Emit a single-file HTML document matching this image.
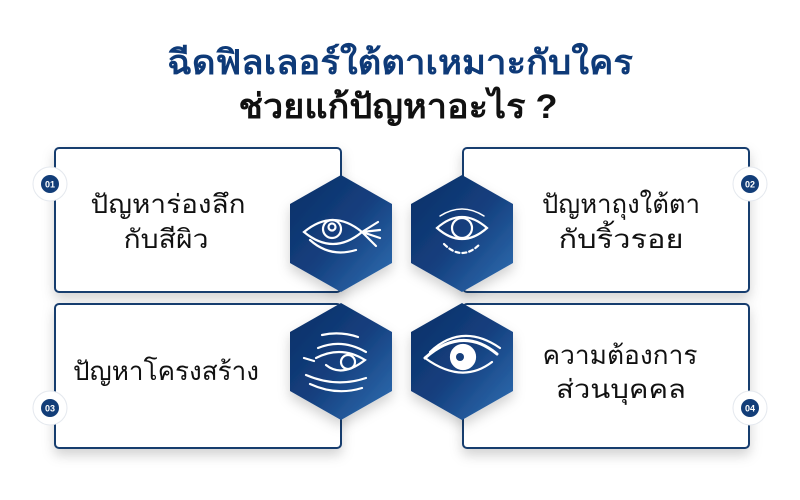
<!DOCTYPE html>
<html><head><meta charset="utf-8"><style>
html,body{margin:0;padding:0;background:#fff;}
svg{display:block}
text{font-family:"Liberation Sans","DejaVu Sans",sans-serif;}
</style></head><body>
<svg width="800" height="500" viewBox="0 0 800 500" xmlns="http://www.w3.org/2000/svg">
<defs>
<linearGradient id="g" x1="0" y1="0" x2="1" y2="1">
<stop offset="0" stop-color="#0b2f66"/><stop offset="0.5" stop-color="#143f7e"/><stop offset="1" stop-color="#3170b4"/>
</linearGradient>
<filter id="sh" x="-20%" y="-20%" width="140%" height="150%"><feDropShadow dx="0" dy="6" stdDeviation="6" flood-color="#000" flood-opacity="0.18"/></filter>
</defs>
<rect width="800" height="500" fill="#fff"/>
<text x="400" y="74" text-anchor="middle" font-size="34" font-weight="bold" fill="#0e3a78" textLength="466" lengthAdjust="spacingAndGlyphs">ฉีดฟิลเลอร์ใต้ตาเหมาะกับใคร</text>
<text x="398" y="118" text-anchor="middle" font-size="34" font-weight="bold" fill="#111" textLength="319" lengthAdjust="spacingAndGlyphs">ช่วยแก้ปัญหาอะไร ?</text>

<g fill="#fff" stroke="#173c6e" stroke-width="2" filter="url(#sh)">
<rect x="55" y="148" width="286" height="144" rx="4"/>
<rect x="463" y="148" width="286" height="144" rx="4"/>
<rect x="55" y="304" width="286" height="144" rx="4"/>
<rect x="463" y="304" width="286" height="144" rx="4"/>
</g>

<g fill="url(#g)" filter="url(#sh)">
<polygon points="341,175 392,204 392,263 341,292 290,263 290,204"/>
<polygon points="462,175 513,204 513,263 462,292 411,263 411,204"/>
<polygon points="341,303 392,332 392,391 341,420 290,391 290,332"/>
<polygon points="462,303 513,332 513,391 462,420 411,391 411,332"/>
</g>

<!-- badges -->
<g>
<circle cx="50" cy="184" r="17" fill="#fff" stroke="#e4e8ee"/><circle cx="50" cy="184" r="9" fill="#123d78"/>
<text x="50" y="187.5" text-anchor="middle" font-size="9" font-weight="bold" fill="#fff">01</text>
<circle cx="750" cy="184" r="17" fill="#fff" stroke="#e4e8ee"/><circle cx="750" cy="184" r="9" fill="#123d78"/>
<text x="750" y="187.5" text-anchor="middle" font-size="9" font-weight="bold" fill="#fff">02</text>
<circle cx="50" cy="408" r="17" fill="#fff" stroke="#e4e8ee"/><circle cx="50" cy="408" r="9" fill="#123d78"/>
<text x="50" y="411.5" text-anchor="middle" font-size="9" font-weight="bold" fill="#fff">03</text>
<circle cx="750" cy="408" r="17" fill="#fff" stroke="#e4e8ee"/><circle cx="750" cy="408" r="9" fill="#123d78"/>
<text x="750" y="411.5" text-anchor="middle" font-size="9" font-weight="bold" fill="#fff">04</text>
</g>

<g font-size="26" fill="#111" text-anchor="middle">
<text x="168" y="213" textLength="155" lengthAdjust="spacingAndGlyphs">ปัญหาร่องลึก</text>
<text x="166" y="248" textLength="85" lengthAdjust="spacingAndGlyphs">กับสีผิว</text>
<text x="621" y="213" textLength="158" lengthAdjust="spacingAndGlyphs">ปัญหาถุงใต้ตา</text>
<text x="621" y="248" textLength="125" lengthAdjust="spacingAndGlyphs">กับริ้วรอย</text>
<text x="166" y="380" textLength="186" lengthAdjust="spacingAndGlyphs">ปัญหาโครงสร้าง</text>
<text x="620" y="364" textLength="155" lengthAdjust="spacingAndGlyphs">ความต้องการ</text>
<text x="621" y="398" textLength="130" lengthAdjust="spacingAndGlyphs">ส่วนบุคคล</text>
</g>

<!-- icons -->
<g fill="none" stroke="#fff" stroke-width="2.2" stroke-linecap="round">
<!-- eye 1 -->
<path d="M304,232 Q333,208 362,232 Q333,256 304,232 Z"/>
<circle cx="332" cy="229" r="9"/><circle cx="332" cy="227" r="3.5"/>
<path d="M362,232 L378,222 M362,232 L380,230 M362,232 L380,238 M362,232 L376,246"/>
<path d="M310,240 Q330,258 356,250"/>
<!-- eye 2 -->
<path d="M437,228 Q462,206 487,228 Q462,250 437,228 Z"/>
<circle cx="462" cy="228" r="10"/>
<path d="M444,244 Q462,262 480,244" stroke-dasharray="4 3"/>
<path d="M440,216 Q462,202 484,216" stroke-width="1.5"/>
<!-- eye 3 -->
<path d="M322,335 Q340,331 358,337"/>
<path d="M318,348 Q342,338 366,352"/>
<path d="M316,358 Q341,345 365,360 Q342,378 326,365"/>
<circle cx="348" cy="362" r="7"/>
<path d="M304,358 L314,361 M306,375 Q336,388 366,378 M310,384 Q336,396 362,388"/>
<!-- eye 4 -->
<path d="M425,358 Q462,325 497,354" stroke-width="3"/>
<path d="M425,358 Q462,385 492,362"/>
<path d="M430,352 Q462,322 500,348"/>
<circle cx="463" cy="357" r="12" fill="#fff"/>
<circle cx="460" cy="357" r="4" fill="#163f7c" stroke="none"/>
</g>
</svg>
</body></html>
